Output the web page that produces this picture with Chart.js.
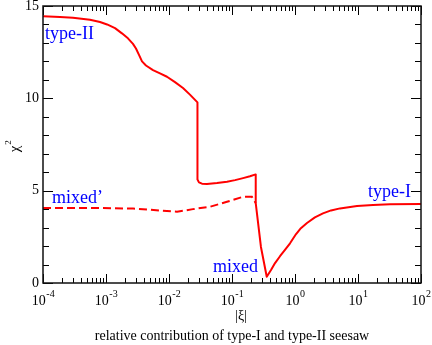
<!DOCTYPE html>
<html>
<head>
<meta charset="utf-8">
<script src="https://cdn.jsdelivr.net/npm/chart.js@4"></script>
<style>
    html, body { margin: 0; padding: 0; background: #fff; }
    #wrap { width: 432px; height: 345px; }
</style>
</head>
<body>
<div id="wrap"><canvas id="chi2Chart"></canvas></div>
<script>
// chi^2 vs |xi|
const solidX = [1e-4, 1.86e-4, 2.99e-4, 5.57e-4, 8.04e-4, 1.04e-3, 1.39e-3, 1.79e-3, 2.23e-3, 2.68e-3, 2.99e-3, 3.34e-3,
    3.73e-3, 4.31e-3, 5.57e-3, 7.19e-3, 9.29e-3, 0.01245, 0.01667, 0.0215, 0.0283,
    0.0283, 0.0299, 0.0334, 0.0401, 0.0578, 0.0833, 0.1117, 0.150, 0.193, 0.238,
    0.238, 0.288, 0.356, 0.416, 0.482, 0.578, 0.693, 0.834, 1.04, 1.24, 1.55, 2.07, 2.78, 3.73, 5.18, 9.64, 17.3, 32.2, 100];
const solidY = [14.45, 14.41, 14.36, 14.25, 14.13, 14.0, 13.8, 13.52, 13.25, 12.95, 12.7, 12.35,
    12.0, 11.78, 11.53, 11.35, 11.17, 10.88, 10.56, 10.2, 9.78,
    5.6, 5.45, 5.38, 5.36, 5.41, 5.48, 5.57, 5.68, 5.78, 5.88,
    4.33, 1.95, 0.34, 0.7, 1.08, 1.45, 1.79, 2.15, 2.65, 2.97, 3.25, 3.55, 3.77, 3.93, 4.04, 4.17, 4.22, 4.26, 4.28];

const dashX = [1e-4, 8e-4, 2.7e-3, 5e-3, 7.2e-3, 0.0134, 0.024, 0.0448, 0.0833, 0.150, 0.207, 0.238];
const dashY = [4.06, 4.06, 4.03, 3.97, 3.92, 3.86, 4.0, 4.13, 4.4, 4.67, 4.67, 4.33];

const yTickValues = [0, 5, 10, 15];
const xDecades = [-4, -3, -2, -1, 0, 1, 2];

const labelTexts = ['type-II', 'mixed\u2019', 'mixed', 'type-I'];
const labelX = [1.08e-4, 1.39e-4, 0.0499, 14.4];
const labelY = [13.48, 4.6, 0.87, 4.93];

const serif = '"Liberation Serif", "DejaVu Serif", serif';

function toPoints(xs, ys) {
    return xs.map((v, i) => ({ x: v, y: ys[i] }));
}

const frameAxes = {
    id: 'frameAxes',
    afterDraw(chart) {
        const { ctx, chartArea: a, scales: { x, y } } = chart;
        ctx.save();

        // ticks pointing inward on all four sides
        ctx.strokeStyle = '#000';
        ctx.lineWidth = 1;
        const seg = (x1, y1, x2, y2) => { ctx.beginPath(); ctx.moveTo(x1, y1); ctx.lineTo(x2, y2); ctx.stroke(); };
        xDecades.forEach(d => {
            for (let m = 1; m <= 9; m++) {
                if (d === 2 && m > 1) break;
                const px = Math.round(x.getPixelForValue(m * Math.pow(10, d))) + 0.5;
                const len = m === 1 ? 9 : 5;
                seg(px, a.bottom, px, a.bottom - len);
                seg(px, a.top, px, a.top + len);
            }
        });
        for (let v = 0; v <= 15; v++) {
            const py = Math.round(y.getPixelForValue(v)) + 0.5;
            const len = v % 5 === 0 ? 10 : 6;
            seg(a.left, py, a.left + len, py);
            seg(a.right, py, a.right - len, py);
        }

        ctx.lineWidth = 1.5;
        ctx.strokeStyle = '#111';
        ctx.strokeRect(a.left, a.top, a.right - a.left, a.bottom - a.top);

        // tick labels
        ctx.fillStyle = '#000';
        ctx.textBaseline = 'middle';
        ctx.font = '14px ' + serif;
        ctx.textAlign = 'right';
        yTickValues.forEach(v => ctx.fillText(String(v), a.left - 4, y.getPixelForValue(v)));

        ctx.textAlign = 'left';
        xDecades.forEach(d => {
            const px = x.getPixelForValue(Math.pow(10, d));
            const exp = String(d);
            ctx.font = '14px ' + serif;
            const wBase = ctx.measureText('10').width;
            ctx.font = '10px ' + serif;
            const wExp = ctx.measureText(exp).width;
            const left = px - (wBase + wExp) / 2;
            ctx.font = '14px ' + serif;
            ctx.fillText('10', left, a.bottom + 18);
            ctx.font = '10px ' + serif;
            ctx.fillText(exp, left + wBase + 0.5, a.bottom + 11);
        });

        // axis titles
        ctx.font = '14px ' + serif;
        ctx.textAlign = 'center';
        ctx.fillText('|\u03be|', (a.left + a.right) / 2 + 9, a.bottom + 33);
        ctx.fillText('relative contribution of type-I and type-II seesaw', (a.left + a.right) / 2, a.bottom + 53);

        ctx.save();
        ctx.translate(15, 147);
        ctx.rotate(-Math.PI / 2);
        ctx.textAlign = 'left';
        ctx.font = '15px ' + serif;
        const wChi = ctx.measureText('\u03c7').width;
        ctx.fillText('\u03c7', -wChi / 2 - 2, 0);
        ctx.font = '9px ' + serif;
        ctx.fillText('2', wChi / 2 - 1, -6);
        ctx.restore();

        // curve labels
        ctx.fillStyle = '#0000ff';
        ctx.font = '18px ' + serif;
        ctx.textAlign = 'left';
        labelTexts.forEach((t, i) => {
            ctx.fillText(t, x.getPixelForValue(labelX[i]), y.getPixelForValue(labelY[i]));
        });

        ctx.restore();
    }
};

new Chart(document.getElementById('chi2Chart'), {
    type: 'scatter',
    data: {
        datasets: [
            {
                label: 'solid',
                data: toPoints(solidX, solidY),
                showLine: true,
                borderColor: '#ff0000',
                borderWidth: 2,
                borderJoinStyle: 'round',
                pointRadius: 0,
                tension: 0
            },
            {
                label: 'dashed',
                data: toPoints(dashX, dashY),
                showLine: true,
                borderColor: '#ff0000',
                borderWidth: 2,
                borderDash: [8, 4],
                pointRadius: 0,
                tension: 0
            }
        ]
    },
    options: {
        responsive: true,
        maintainAspectRatio: false,
        animation: false,
        layout: { padding: { left: 43, right: 11, top: 6, bottom: 62 } },
        plugins: { legend: { display: false }, tooltip: { enabled: false } },
        scales: {
            x: { type: 'logarithmic', min: 1e-4, max: 100, display: false },
            y: { type: 'linear', min: 0, max: 15, display: false }
        }
    },
    plugins: [frameAxes]
});
</script>
</body>
</html>
